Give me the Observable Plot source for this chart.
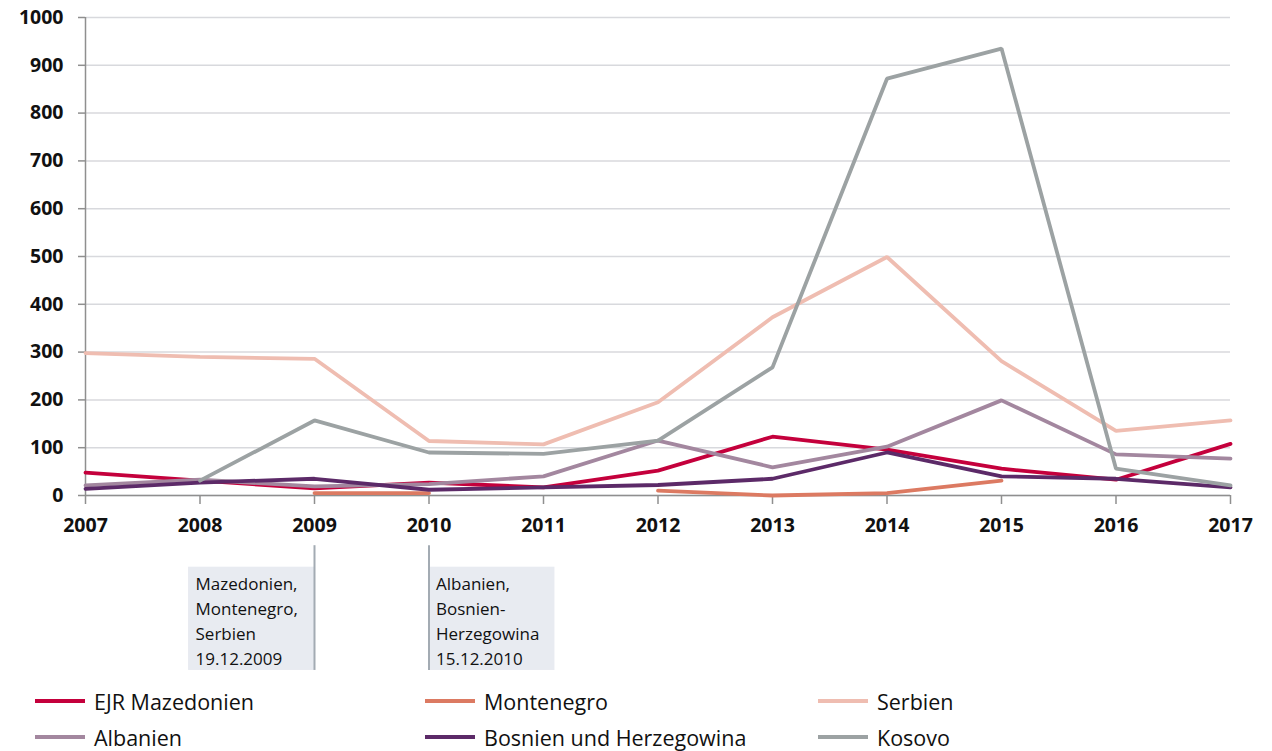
<!DOCTYPE html>
<html><head><meta charset="utf-8">
<script src="https://cdn.jsdelivr.net/npm/d3@7"></script>
<script src="https://cdn.jsdelivr.net/npm/@observablehq/plot@0.6"></script>
<style>
html,body{margin:0;padding:0;background:#fff;}
body{width:1272px;height:751px;overflow:hidden;font-family:"Open Sans",Lato,sans-serif;}
#legend{display:grid;grid-template-columns:390px 393px 400px;margin-left:35px;row-gap:6px;margin-top:6px;}
.item{display:flex;align-items:center;font-size:21.5px;color:#111;height:30px;}
.sw{flex:none;display:inline-block;width:50px;height:4px;margin-right:9px;}
</style></head>
<body>
<div id="chart"></div>
<div id="legend"></div>
<script>
const years = [2007,2008,2009,2010,2011,2012,2013,2014,2015,2016,2017];
const seriesNames = ["EJR Mazedonien","Montenegro","Serbien","Albanien","Bosnien und Herzegowina","Kosovo"];
const seriesColors = ["#c4003c","#dc7a62","#efbdb1","#a3879f","#5c2a68","#9ca2a3"];
const mazedonien = [48,31,15,27,17,52,123,96,56,33,108];
const montenegro = [null,null,5,5,null,10,0,5,31,null,null];
const serbien    = [298,290,286,114,107,195,373,499,281,135,157];
const albanien   = [21,33,19,24,40,115,59,102,199,86,77];
const bosnien    = [14,27,35,12,17,22,35,90,40,35,17];
const kosovo     = [null,31,157,90,87,115,268,872,935,56,21];
const yTicks = [0,100,200,300,400,500,600,700,800,900,1000];
const noteYears = [2009,2010];
const noteTexts = ["Mazedonien,\nMontenegro,\nSerbien\n19.12.2009","Albanien,\nBosnien-\nHerzegowina\n15.12.2010"];

const allSeries = [mazedonien,montenegro,serbien,albanien,bosnien,kosovo];
const rows = [];
allSeries.forEach((vals,i)=>vals.forEach((v,j)=>rows.push({series:seriesNames[i],year:years[j],value:v})));
const notes = noteYears.map((y,i)=>({year:y,text:noteTexts[i],left:i===0}));

const plot = Plot.plot({
  width:1272, height:680,
  marginLeft:85, marginRight:42, marginTop:17, marginBottom:185,
  style:{fontFamily:'"Open Sans",Lato,sans-serif',color:"#111"},
  x:{domain:[2007,2017], axis:null},
  y:{domain:[0,1000], axis:null},
  color:{domain:seriesNames, range:seriesColors},
  marks:[
    Plot.gridY(yTicks,{stroke:"#d8d9dd",strokeOpacity:1,strokeWidth:1.5}),
    Plot.ruleX([2007],{stroke:"#8f8f8f",strokeWidth:1.5}),
    Plot.axisY(yTicks,{label:null,tickSize:7,tickPadding:15,fontSize:19.5,fontWeight:"bold",stroke:"#8f8f8f",strokeWidth:1.5,fill:"#111",tickFormat:"d"}),
    Plot.axisX(years,{label:null,tickSize:9,tickPadding:14,fontSize:19.5,fontWeight:"bold",stroke:"#8f8f8f",strokeWidth:1.5,fill:"#111",tickFormat:"d"}),
    Plot.ruleY([0],{stroke:"#8f8f8f",strokeWidth:1.5}),
    Plot.line(rows,{x:"year",y:"value",z:"series",stroke:"series",strokeWidth:3.8,strokeLinejoin:"miter"}),
    Plot.rect(notes,{x1:d=>d.left? d.year-1.1 : d.year, x2:d=>d.left? d.year : d.year+1.1, y1:-150, y2:-366, fill:"#e8ebf1"}),
    Plot.ruleX(notes,{x:"year",y1:-105,y2:-366,stroke:"#a3abb3",strokeWidth:2}),
    Plot.text(notes,{x:d=>d.left? d.year-1.1 : d.year, y:-150, text:"text", textAnchor:"start", lineAnchor:"top", dx:7, dy:5, fontSize:17, lineHeight:1.47, fill:"#111"})
  ]
});
document.getElementById("chart").appendChild(plot);

const lg = document.getElementById("legend");
seriesNames.forEach((name,i)=>{
  const d=document.createElement("div");d.className="item";
  d.innerHTML=`<span class="sw" style="background:${seriesColors[i]}"></span><span>${name}</span>`;
  lg.appendChild(d);
});
</script>
</body></html>
